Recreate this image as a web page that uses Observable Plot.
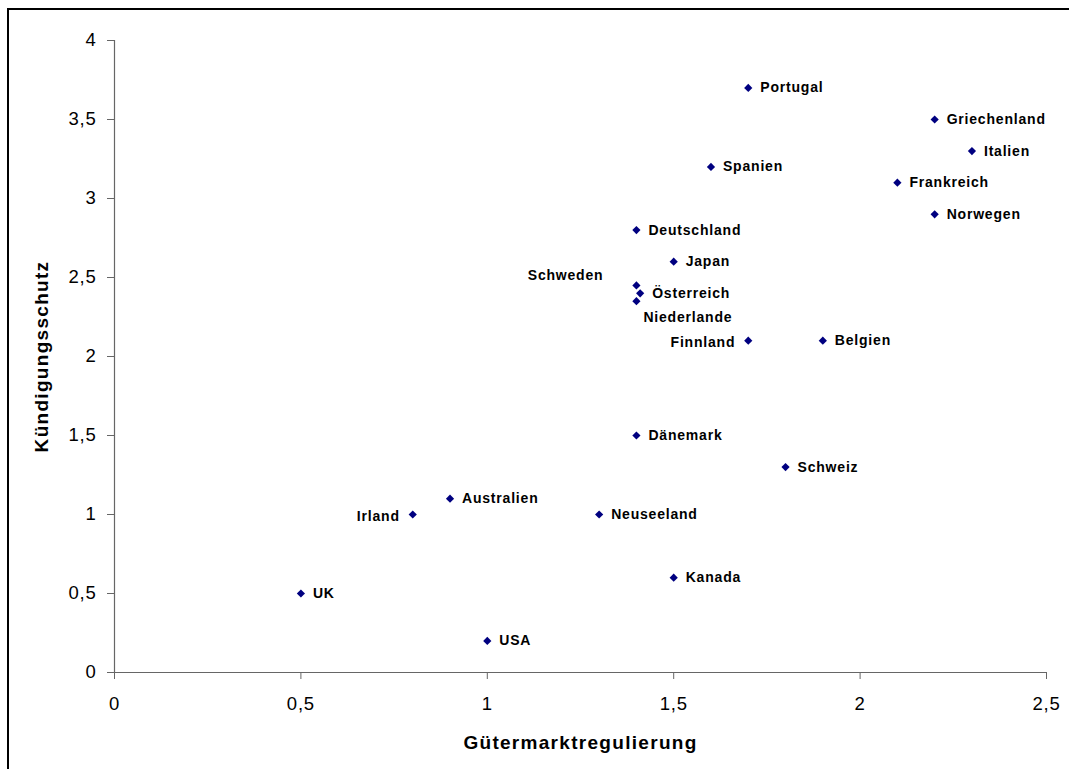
<!DOCTYPE html>
<html>
<head>
<meta charset="utf-8">
<script src="https://cdn.jsdelivr.net/npm/d3@7"></script>
<script src="https://cdn.jsdelivr.net/npm/@observablehq/plot@0.6"></script>
<style>
  html, body { margin: 0; padding: 0; background: #fff; overflow: hidden; }
  #wrap { position: relative; width: 1069px; height: 769px; }
  #frame { position: absolute; left: 7px; top: 8px; width: 1200px; height: 900px;
           border-left: 2px solid #000; border-top: 2px solid #000; pointer-events: none; }
  #chart { position: absolute; left: 0; top: 0; }
  #chart g[font-size="14"] text { letter-spacing: 0.8px; }
  #chart g[font-size="18.5"] text { letter-spacing: 0.8px; }
  #chart g[font-size="19"] text { letter-spacing: 1.3px; }
</style>
</head>
<body>
<div id="wrap"><div id="chart"></div><div id="frame"></div></div>
<script>
const countries = ["Portugal","Griechenland","Italien","Spanien","Frankreich","Norwegen","Deutschland","Japan","Schweden","Österreich","Niederlande","Finnland","Belgien","Dänemark","Schweiz","Australien","Irland","Neuseeland","Kanada","UK","USA"];
const guetermarkt = [1.7, 2.2, 2.3, 1.6, 2.1, 2.2, 1.4, 1.5, 1.4, 1.41, 1.4, 1.7, 1.9, 1.4, 1.8, 0.9, 0.8, 1.3, 1.5, 0.5, 1.0];
const kuendigung = [3.7, 3.5, 3.3, 3.2, 3.1, 2.9, 2.8, 2.6, 2.45, 2.4, 2.35, 2.1, 2.1, 1.5, 1.3, 1.1, 1.0, 1.0, 0.6, 0.5, 0.2];
const xTicks = [0, 0.5, 1, 1.5, 2, 2.5];
const yTicks = [0, 0.5, 1, 1.5, 2, 2.5, 3, 3.5, 4];
const xTitle = "Gütermarktregulierung";
const yTitle = "Kündigungsschutz";
// label placement (style): default right
const labelLeft = ["Finnland", "Irland"];
const labelUpLeft = ["Schweden"];
const labelBelow = ["Niederlande"];

const data = countries.map((c, i) => ({country: c, x: guetermarkt[i], y: kuendigung[i]}));
const fmt = d => String(d).replace(".", ",");
const font = "'Liberation Sans', Arial, sans-serif";
const navy = "#000080";
const axisColor = "#666";

const isRight = d => !labelLeft.includes(d.country) && !labelUpLeft.includes(d.country) && !labelBelow.includes(d.country);

const labelStyle = {x: "x", y: "y", text: "country", fontSize: 14, fontWeight: "bold", fill: "#000"};

const chart = Plot.plot({
  width: 1069,
  height: 769,
  marginLeft: 114,
  marginRight: 23,
  marginTop: 40,
  marginBottom: 97,
  style: {fontFamily: font, background: "#fff"},
  x: {domain: [0, 2.5]},
  y: {domain: [0, 4]},
  marks: [
    Plot.axisX({ticks: xTicks, tickFormat: fmt, tickSize: 7, tickPadding: 17, stroke: axisColor,
      fill: "#000", fontSize: 18.5, label: null}),
    Plot.axisY({ticks: yTicks, tickFormat: fmt, tickSize: 7, tickPadding: 11, stroke: axisColor,
      fill: "#000", fontSize: 18.5, label: null}),
    Plot.ruleY([0], {stroke: axisColor, strokeWidth: 1.2}),
    Plot.ruleX([0], {stroke: axisColor, strokeWidth: 1.2}),
    Plot.dot(data, {x: "x", y: "y", symbol: "diamond2", r: 3.7, fill: navy, stroke: "none"}),
    Plot.text(data.filter(isRight), {...labelStyle, dx: 12, textAnchor: "start"}),
    Plot.text(data.filter(d => labelLeft.includes(d.country)), {...labelStyle, dx: -13, dy: 2, textAnchor: "end"}),
    Plot.text(data.filter(d => labelUpLeft.includes(d.country)), {...labelStyle, dx: -33, dy: -10, textAnchor: "end"}),
    Plot.text(data.filter(d => labelBelow.includes(d.country)), {...labelStyle, dx: 7, dy: 16, textAnchor: "start"}),
    Plot.text([xTitle], {frameAnchor: "bottom", dy: 70, lineAnchor: "middle", textAnchor: "middle",
      fontSize: 19, fontWeight: "bold", fill: "#000"}),
    Plot.text([yTitle], {frameAnchor: "left", dx: -73, rotate: -90, textAnchor: "middle", lineAnchor: "middle",
      fontSize: 19, fontWeight: "bold", fill: "#000"})
  ]
});
document.getElementById("chart").appendChild(chart);
</script>
</body>
</html>
